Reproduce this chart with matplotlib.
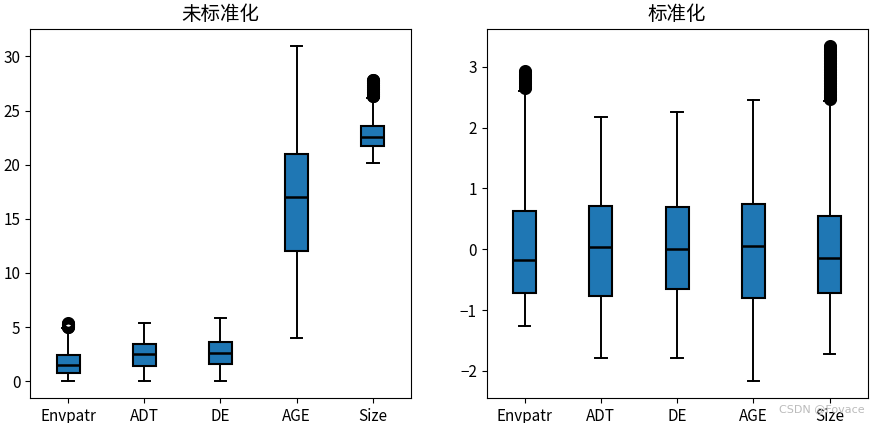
import matplotlib
matplotlib.use("Agg")
import matplotlib.pyplot as plt

plt.rcParams['font.family'] = ['Noto Sans CJK SC', 'DejaVu Sans']
plt.rcParams['axes.unicode_minus'] = True

labels = ["Envpatr", "ADT", "DE", "AGE", "Size"]

# raw (未标准化) stats
raw_whislo = [0.0, 0.0, 0.0, 4.0, 20.15]
raw_q1 = [0.74, 1.38, 1.63, 12.0, 21.7]
raw_med = [1.47, 2.51, 2.6, 17.0, 22.57]
raw_q3 = [2.4, 3.43, 3.62, 21.0, 23.55]
raw_whishi = [4.9, 5.4, 5.8, 31.0, 26.2]
raw_fliers = [
    [4.98, 5.03, 5.07, 5.12, 5.16, 5.2, 5.25, 5.29, 5.33, 5.37],
    [],
    [],
    [],
    [26.3, 26.35, 26.4, 26.5, 26.55, 26.6, 26.7, 26.75, 26.8, 26.9, 26.95,
     27.0, 27.1, 27.15, 27.2, 27.3, 27.35, 27.4, 27.5, 27.55, 27.6, 27.7,
     27.75, 27.8, 27.85],
]

# standardized (标准化) stats
std_whislo = [-1.26, -1.79, -1.78, -2.17, -1.73]
std_q1 = [-0.72, -0.77, -0.66, -0.80, -0.72]
std_med = [-0.17, 0.04, 0.01, 0.055, -0.14]
std_q3 = [0.635, 0.71, 0.70, 0.74, 0.55]
std_whishi = [2.6, 2.17, 2.26, 2.45, 2.44]
std_fliers = [
    [2.65, 2.67, 2.69, 2.71, 2.73, 2.75, 2.77, 2.79, 2.81, 2.83, 2.85, 2.87,
     2.89, 2.91, 2.93],
    [],
    [],
    [],
    [2.47, 2.49, 2.51, 2.54, 2.56, 2.59, 2.61, 2.64, 2.66, 2.69, 2.71, 2.74,
     2.76, 2.79, 2.81, 2.84, 2.86, 2.89, 2.91, 2.94, 2.96, 2.99, 3.01, 3.04,
     3.06, 3.09, 3.11, 3.14, 3.16, 3.19, 3.21, 3.24, 3.26, 3.29, 3.31, 3.33,
     3.35],
]


def make_stats(lo, q1, med, q3, hi, fl):
    out = []
    for i in range(len(labels)):
        out.append(dict(label=labels[i], whislo=lo[i], q1=q1[i], med=med[i],
                        q3=q3[i], whishi=hi[i], fliers=fl[i]))
    return out


fig = plt.figure(figsize=(8.72, 4.23), dpi=100)
ax1 = fig.add_axes([0.0344, 0.059, 0.4369, 0.873])
ax2 = fig.add_axes([0.558, 0.059, 0.437, 0.873])

box_kw = dict(patch_artist=True, widths=0.3,
              boxprops=dict(facecolor='#1f77b4', edgecolor='black', linewidth=1.5),
              medianprops=dict(color='black', linewidth=1.8),
              whiskerprops=dict(color='black', linewidth=1.4),
              capprops=dict(color='black', linewidth=1.4),
              flierprops=dict(marker='o', markerfacecolor='none',
                              markeredgecolor='black', markersize=7,
                              markeredgewidth=2.4))

ax1.bxp(make_stats(raw_whislo, raw_q1, raw_med, raw_q3, raw_whishi, raw_fliers), **box_kw)
ax2.bxp(make_stats(std_whislo, std_q1, std_med, std_q3, std_whishi, std_fliers), **box_kw)

ax1.set_title("未标准化", fontsize=14)
ax2.set_title("标准化", fontsize=14)

for ax in (ax1, ax2):
    ax.tick_params(labelsize=11)

ax1.set_yticks([0, 5, 10, 15, 20, 25, 30])
ax2.set_yticks([-2, -1, 0, 1, 2, 3])

fig.text(0.893, 0.033, "CSDN @Fovace", fontsize=8, color='#bbbbbb',
         ha='left', va='center', family=['DejaVu Sans'])

fig.savefig("out.png", dpi=100)
